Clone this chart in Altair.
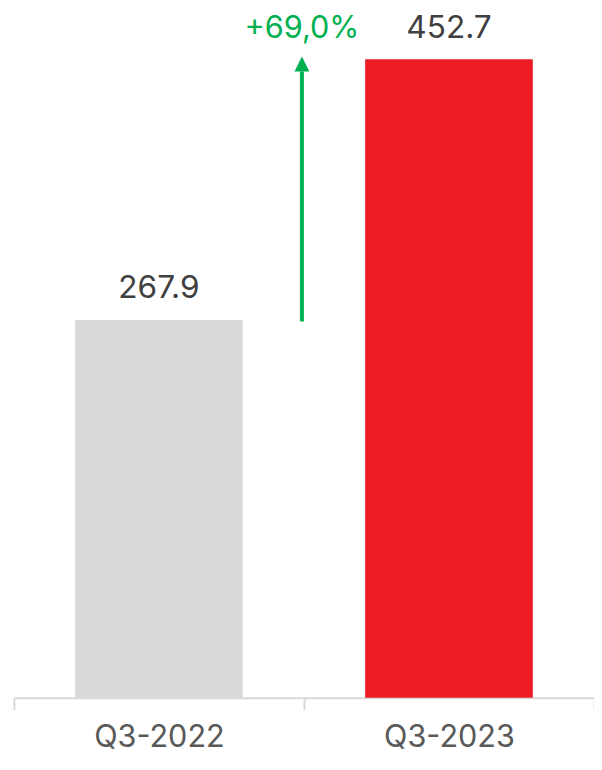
import altair as alt
import pandas as pd

categories = ["Q3-2022", "Q3-2023"]
values = [267.9, 452.7]
value_labels = ["267.9", "452.7"]
bar_colors = ["#d9d9d9", "#ed1c24"]
growth_label = "+69,0%"
# arrow position, in category steps from the left edge (0 = left, 1 = between the bars)
arrow_pos = 0.993
arrow_start = 266.8
arrow_base = 444.0
arrow_tip = 454.6

FONT = "Inter"

bars_df = pd.DataFrame({"cat": categories, "val": values, "lab": value_labels, "col": bar_colors})
arrow_df = pd.DataFrame({"pos": [arrow_pos], "y0": [arrow_start], "y1": [arrow_base],
                         "tip": [arrow_tip], "top": [values[1]], "lab": [growth_label]})

x_scale = alt.Scale(paddingInner=0, paddingOuter=0)
x_enc = alt.X("cat:N", sort=categories, title=None, scale=x_scale,
              axis=alt.Axis(labelAngle=0, domainColor="#d9d9d9", domainWidth=2,
                            tickColor="#d9d9d9", tickWidth=2, tickSize=12, tickBand="extent",
                            labelFont=FONT, labelFontSize=31, labelColor="#595959",
                            labelBaseline="alphabetic", labelPadding=37))
y_scale = alt.Scale(domain=[0, 485.5], nice=False)

base = alt.Chart(bars_df)
bars = base.mark_bar(width=alt.RelativeBandSize(0.578)).encode(
    x=x_enc,
    y=alt.Y("val:Q", scale=y_scale, axis=None),
    color=alt.Color("col:N", scale=None),
)
labels = base.mark_text(font=FONT, fontSize=32, color="#404040", baseline="alphabetic", dy=-22).encode(
    x=alt.X("cat:N", sort=categories),
    y=alt.Y("val:Q", scale=y_scale),
    text="lab:N",
)
bar_layer = alt.layer(bars, labels)

ax = alt.X("pos:Q", scale=alt.Scale(domain=[0, len(categories)], nice=False, zero=False), axis=None)
abase = alt.Chart(arrow_df)
stem = abase.mark_rule(color="#00b050", strokeWidth=4).encode(
    x=ax,
    y=alt.Y("y0:Q", scale=y_scale),
    y2="y1:Q",
)
head = abase.mark_point(shape="M0,0L-1,2L1,2Z", filled=True, opacity=1, color="#00b050", size=225, strokeWidth=0).encode(
    x=ax,
    y=alt.Y("tip:Q", scale=y_scale),
)
glabel = abase.mark_text(font=FONT, fontSize=31, color="#00b050", baseline="alphabetic", dy=-22).encode(
    x=ax,
    y=alt.Y("top:Q", scale=y_scale),
    text="lab:N",
)
arrow_layer = alt.layer(stem, head, glabel)

chart = alt.layer(bar_layer, arrow_layer).resolve_scale(x="independent").properties(
    width=588, height=694,
    autosize=alt.AutoSizeParams(type="none"),
    padding={"left": 6, "top": 0, "right": 0, "bottom": 52},
).configure_view(stroke=None)

chart.save("out.html", embed_options={"renderer": "svg", "actions": False})
